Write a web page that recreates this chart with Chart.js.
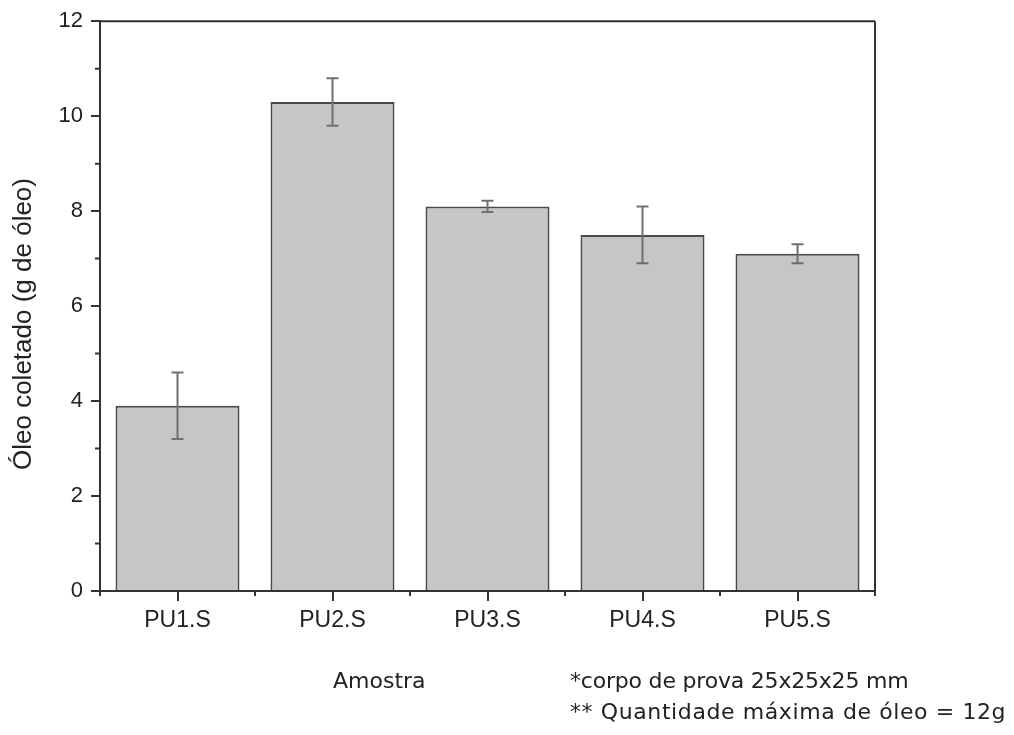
<!DOCTYPE html>
<html>
<head>
<meta charset="utf-8">
<script src="https://cdn.jsdelivr.net/npm/chart.js@4"></script>
<style>
    body { margin: 0; background: #fff; }
    #wrap { position: relative; width: 1014px; height: 735px; }
    .note { position: absolute; font-family: "DejaVu Sans", sans-serif; font-size: 22px; color: #222; white-space: nowrap; }
</style>
</head>
<body>
<div id="wrap">
    <canvas id="oilChart" width="1014" height="735"></canvas>
    <div class="note" style="left:333px; top:668px;">Amostra</div>
    <div class="note" style="left:570px; top:668px; letter-spacing:-0.2px;">*corpo de prova 25x25x25 mm</div>
    <div class="note" style="left:570px; top:699px; letter-spacing:0.6px;">** Quantidade máxima de óleo = 12g</div>
</div>
<script>
// Data
const categories = ["PU1.S", "PU2.S", "PU3.S", "PU4.S", "PU5.S"];
const oilValues = [3.9, 10.3, 8.1, 7.5, 7.1];
const oilErrors = [0.7, 0.5, 0.12, 0.6, 0.2];
const yMin = 0, yMax = 12, yStep = 2;
const yTitle = "Óleo coletado (g de óleo)";

const axisColor = "#333";

// Error bars, minor ticks, y title and the top/right frame
const extras = {
    id: "extras",
    afterDatasetsDraw(chart) {
        const ctx = chart.ctx;
        const y = chart.scales.y;
        const x = chart.scales.x;
        const area = chart.chartArea;
        ctx.save();

        // error bars
        ctx.strokeStyle = "#707070";
        ctx.lineWidth = 2;
        chart.getDatasetMeta(0).data.forEach((bar, i) => {
            const top = y.getPixelForValue(oilValues[i] + oilErrors[i]);
            const bot = y.getPixelForValue(oilValues[i] - oilErrors[i]);
            ctx.beginPath();
            ctx.moveTo(bar.x, top); ctx.lineTo(bar.x, bot);
            ctx.moveTo(bar.x - 6, top); ctx.lineTo(bar.x + 6, top);
            ctx.moveTo(bar.x - 6, bot); ctx.lineTo(bar.x + 6, bot);
            ctx.stroke();
        });

        // frame
        ctx.strokeStyle = axisColor;
        ctx.lineWidth = 2;
        ctx.beginPath();
        ctx.moveTo(area.left, area.top); ctx.lineTo(area.right, area.top);
        ctx.moveTo(area.right, area.top); ctx.lineTo(area.right, area.bottom);
        ctx.stroke();

        // minor ticks
        ctx.beginPath();
        for (let v = yMin + yStep / 2; v < yMax; v += yStep) {
            const py = y.getPixelForValue(v);
            ctx.moveTo(area.left, py); ctx.lineTo(area.left - 5, py);
        }
        for (let i = 0; i <= categories.length; i++) {
            const px = x.getPixelForValue(i - 0.5);
            ctx.moveTo(px, area.bottom); ctx.lineTo(px, area.bottom + 5);
        }
        ctx.stroke();

        // y title, sits a bit below the plot centre like the original
        ctx.translate(24, 324);
        ctx.rotate(-Math.PI / 2);
        ctx.fillStyle = "#222";
        ctx.font = "26px 'Liberation Sans'";
        ctx.textAlign = "center";
        ctx.textBaseline = "middle";
        ctx.fillText(yTitle, 0, 0);
        ctx.restore();
    }
};

new Chart(document.getElementById("oilChart"), {
    type: "bar",
    data: {
        labels: categories,
        datasets: [{
            data: oilValues,
            backgroundColor: "#c6c6c6",
            borderColor: "#4a4a4a",
            borderWidth: 2,
            borderSkipped: "bottom",
            barPercentage: 0.8,
            categoryPercentage: 1
        }]
    },
    options: {
        responsive: false,
        animation: false,
        layout: { padding: { top: 20, right: 139, left: 0, bottom: 0 } },
        plugins: { legend: { display: false }, tooltip: { enabled: false } },
        scales: {
            x: {
                offset: true,
                grid: { offset: false, drawOnChartArea: false, color: axisColor, lineWidth: 2, tickLength: 10 },
                border: { color: axisColor, width: 2 },
                ticks: { color: "#222", padding: 6, font: { family: "Liberation Sans", size: 23 } },
                afterFit(scale) { scale.height = 144; }
            },
            y: {
                min: yMin,
                max: yMax,
                grid: { drawOnChartArea: false, color: axisColor, lineWidth: 2, tickLength: 9 },
                border: { color: axisColor, width: 2 },
                ticks: { stepSize: yStep, color: "#222", padding: 8, font: { family: "Liberation Sans", size: 22 } },
                afterFit(scale) { scale.width = 100; }
            }
        }
    },
    plugins: [extras]
});
</script>
</body>
</html>
